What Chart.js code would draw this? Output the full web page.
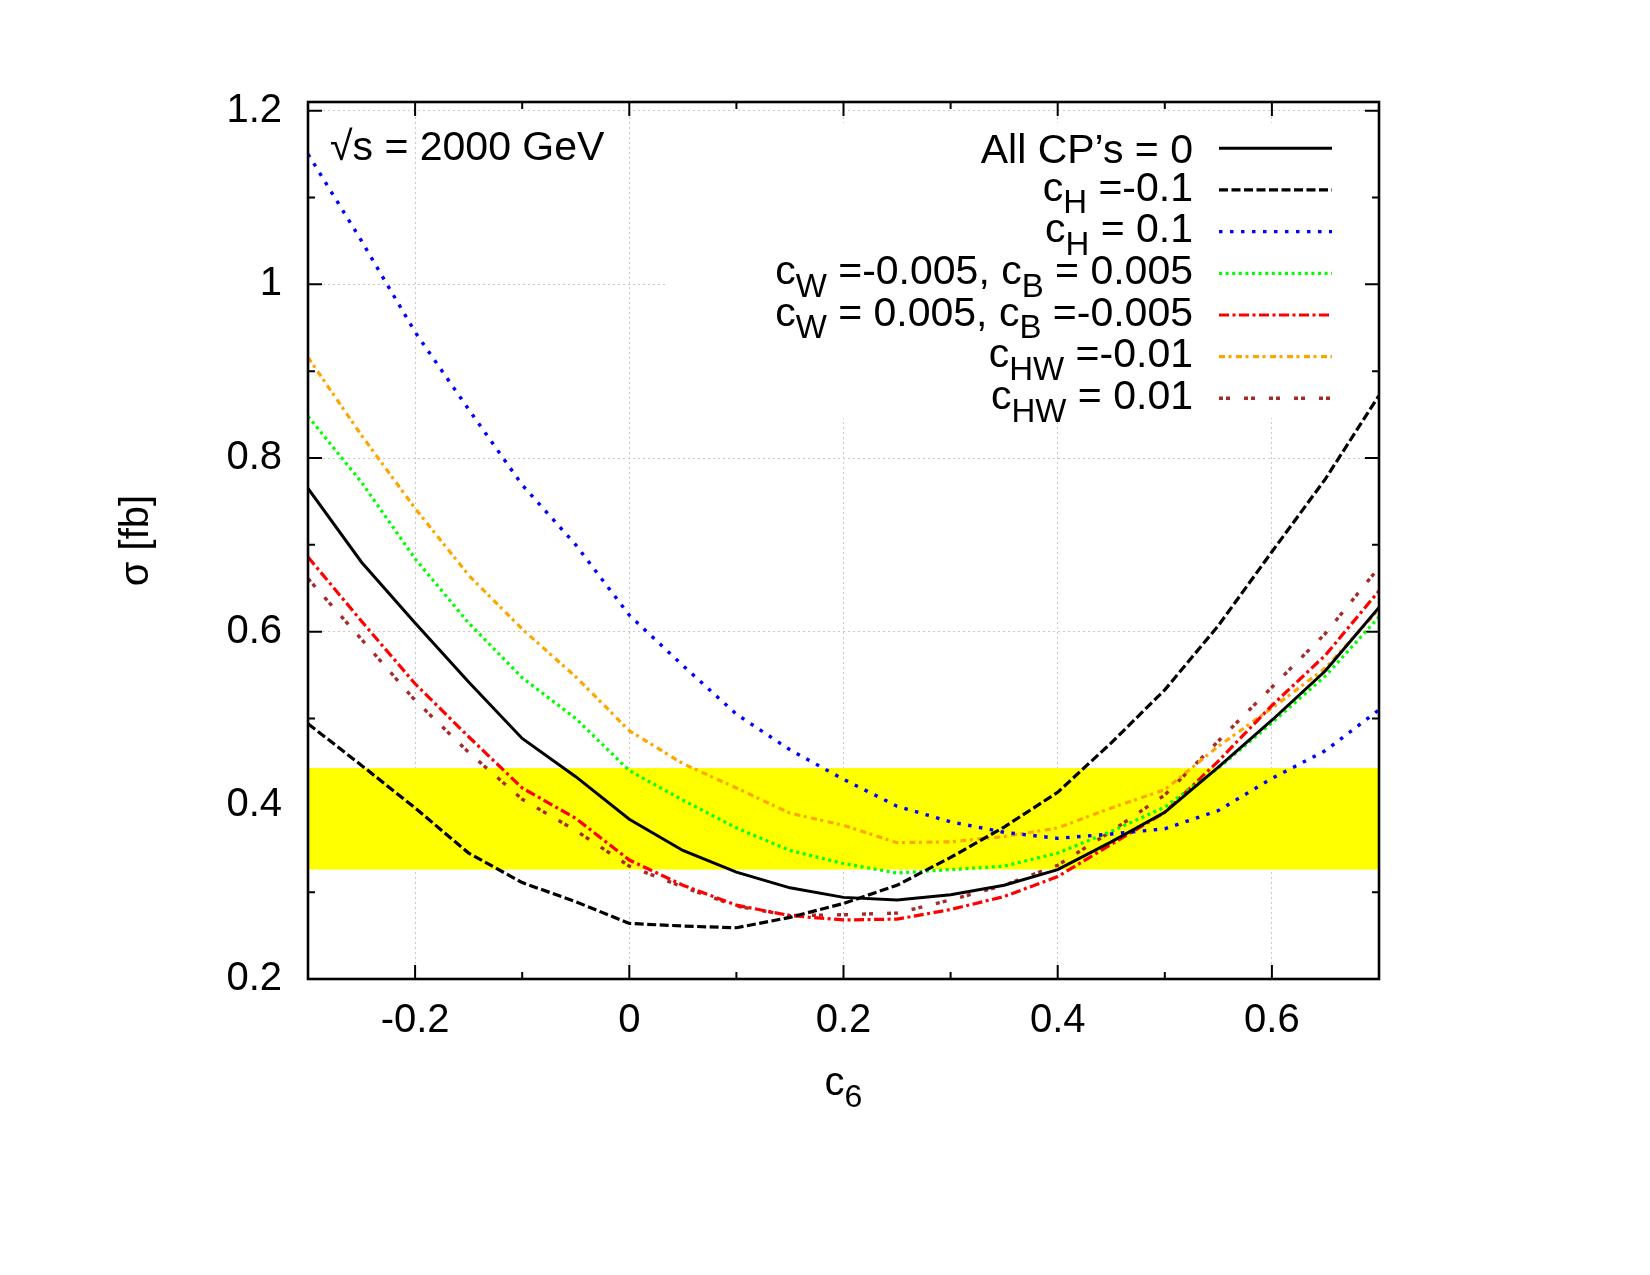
<!DOCTYPE html>
<html>
<head>
<meta charset="utf-8">
<script src="https://cdn.jsdelivr.net/npm/chart.js@4.4.1/dist/chart.umd.min.js"></script>
<style>
html,body{margin:0;padding:0;background:#ffffff;}
canvas{display:block;}
</style>
</head>
<body>
<canvas id="c" width="1650" height="1275"></canvas>
<script>
// ---------------- data ----------------
const c6 = [-0.3,-0.25,-0.2,-0.15,-0.1,-0.05,0,0.05,0.1,0.15,0.2,0.25,0.3,0.35,0.4,0.45,0.5,0.55,0.6,0.65,0.7];

const sigmaAllZero   = [0.765,0.680,0.610,0.542,0.477,0.433,0.384,0.348,0.323,0.305,0.294,0.291,0.297,0.308,0.326,0.358,0.392,0.444,0.498,0.555,0.628];
const sigmaCHm01     = [0.494,0.446,0.397,0.345,0.311,0.289,0.264,0.261,0.259,0.271,0.287,0.308,0.340,0.375,0.415,0.472,0.533,0.607,0.692,0.776,0.872];
const sigmaCHp01     = [1.150,1.050,0.945,0.856,0.769,0.700,0.619,0.561,0.505,0.464,0.430,0.399,0.381,0.369,0.362,0.367,0.373,0.394,0.431,0.463,0.510];
const sigmaCWmCBp    = [0.848,0.772,0.684,0.610,0.547,0.500,0.440,0.406,0.374,0.348,0.333,0.322,0.326,0.330,0.345,0.370,0.398,0.443,0.495,0.549,0.617];
const sigmaCWpCBm    = [0.686,0.612,0.540,0.479,0.420,0.385,0.337,0.308,0.285,0.273,0.268,0.269,0.280,0.295,0.318,0.355,0.392,0.451,0.515,0.573,0.647];
const sigmaCHWm001   = [0.916,0.826,0.742,0.665,0.603,0.548,0.486,0.448,0.420,0.391,0.377,0.357,0.358,0.364,0.374,0.397,0.418,0.468,0.512,0.558,0.626];
const sigmaCHWp001   = [0.661,0.591,0.521,0.461,0.407,0.371,0.330,0.306,0.284,0.273,0.274,0.276,0.291,0.308,0.331,0.370,0.412,0.474,0.536,0.598,0.674];

const bandLow  = 0.326;   // yellow band lower edge [fb]
const bandHigh = 0.443;   // yellow band upper edge [fb]

const legendLabels = [
  "All CP\u2019s = 0",
  "c_{H} =-0.1",
  "c_{H} = 0.1",
  "c_{W} =-0.005, c_{B} = 0.005",
  "c_{W} = 0.005, c_{B} =-0.005",
  "c_{HW} =-0.01",
  "c_{HW} = 0.01"
];

const xTickValues = [-0.3,-0.2,-0.1,0,0.1,0.2,0.3,0.4,0.5,0.6,0.7];
const xTickLabels = ["","-0.2","","0","","0.2","","0.4","","0.6",""];
const yTickValues = [0.2,0.3,0.4,0.5,0.6,0.7,0.8,0.9,1.0,1.1,1.2];
const yTickLabels = ["0.2","","0.4","","0.6","","0.8","","1","","1.2"];

const xTitle = "c_{6}";
const yTitle = "\u03c3 [fb]";
const energyLabel = "\u221as = 2000 GeV";

// ---------------- helpers ----------------
const FAM = '"Liberation Sans", Arial, Helvetica, sans-serif';
Chart.defaults.font.family = FAM;

function parseRich(s){
  const segs=[]; const re=/_\{([^}]*)\}/g; let last=0, m;
  while((m=re.exec(s))){
    if(m.index>last) segs.push({t:s.slice(last,m.index),sub:false});
    segs.push({t:m[1],sub:true}); last=re.lastIndex;
  }
  if(last<s.length) segs.push({t:s.slice(last),sub:false});
  return segs;
}
function drawRich(ctx, s, x, y, align, size){
  const segs=parseRich(s);
  let w=0;
  segs.forEach(g=>{ctx.font=(g.sub?Math.round(size*0.8):size)+'px '+FAM; g.w=ctx.measureText(g.t).width; w+=g.w;});
  let cx = align==='right' ? x-w : (align==='center' ? x-w/2 : x);
  ctx.textAlign='left'; ctx.textBaseline='alphabetic';
  segs.forEach(g=>{
    ctx.font=(g.sub?Math.round(size*0.8):size)+'px '+FAM;
    ctx.fillText(g.t, cx, y + (g.sub ? size*0.31 : 0));
    cx+=g.w;
  });
}
const isMajor = v => Math.abs(Math.round(v*10)) % 2 === 0;
const pts = arr => arr.map((v,i)=>({x:c6[i], y:v}));

// ---------------- datasets ----------------
const styles = [
  {color:'#000000', dash:[],             width:3.0},
  {color:'#000000', dash:[9,3.5],        width:3.2},
  {color:'#0000ff', dash:[3.5,7.5],      width:3.4},
  {color:'#00ff00', dash:[3,3.6],        width:3.2},
  {color:'#ff0000', dash:[10,3.5,3,3.5], width:3.2},
  {color:'#ffa500', dash:[6,3.5,3,4.5],  width:3.2},
  {color:'#a52a2a', dash:[4,3,4,14],     width:3.4}
];
const seriesData = [sigmaAllZero, sigmaCHm01, sigmaCHp01, sigmaCWmCBp, sigmaCWpCBm, sigmaCHWm001, sigmaCHWp001];

const datasets = seriesData.map((d,i)=>({
  label: legendLabels[i],
  data: pts(d),
  borderColor: styles[i].color,
  borderDash: styles[i].dash,
  borderWidth: styles[i].width,
  borderCapStyle: 'butt',
  pointRadius: 0,
  tension: 0,
  fill: false,
  order: i+1
}));
// yellow band
datasets.push({
  label: 'band',
  data: [{x:c6[0], y:bandHigh},{x:c6[c6.length-1], y:bandHigh}],
  borderWidth: 0,
  borderColor: 'rgba(0,0,0,0)',
  backgroundColor: '#ffff00',
  pointRadius: 0,
  fill: {value: bandLow},
  order: 100
});

// ---------------- custom drawing ----------------
const LEG = {box:{x0:666, x1:1365, y0:123, y1:418}, textRight:1193, lineX0:1219, lineX1:1332, y0:148.3, dy:41.67, size:41};

const framePlugin = {
  id:'frame',
  beforeDatasetsDraw(chart){
    const {ctx, chartArea:a, scales:{x,y}} = chart;
    ctx.save();
    ctx.fillStyle='#ffffff';
    ctx.fillRect(LEG.box.x0, LEG.box.y0, LEG.box.x1-LEG.box.x0, LEG.box.y1-LEG.box.y0);
    ctx.strokeStyle='#000'; ctx.lineWidth=2; ctx.setLineDash([]);
    ctx.beginPath();
    x.ticks.forEach(t=>{
      const px=x.getPixelForValue(t.value); const L=isMajor(t.value)?14:7;
      ctx.moveTo(px,a.bottom); ctx.lineTo(px,a.bottom-L);
      ctx.moveTo(px,a.top); ctx.lineTo(px,a.top+L);
    });
    y.ticks.forEach(t=>{
      const py=y.getPixelForValue(t.value); const L=isMajor(t.value)?14:7;
      ctx.moveTo(a.left,py); ctx.lineTo(a.left+L,py);
      ctx.moveTo(a.right,py); ctx.lineTo(a.right-L,py);
    });
    ctx.stroke();
    ctx.restore();
  },
  afterDatasetsDraw(chart){
    const {ctx, chartArea:a} = chart;
    ctx.save();
    ctx.strokeStyle='#000'; ctx.lineWidth=2.6; ctx.setLineDash([]);
    ctx.strokeRect(a.left, a.top, a.right-a.left, a.bottom-a.top);
    ctx.fillStyle='#000';
    chart.data.datasets.forEach((ds,i)=>{
      if(i>=legendLabels.length) return;
      const cy = LEG.y0 + i*LEG.dy;
      const hasSub = ds.label.indexOf('_{')>=0;
      ctx.fillStyle='#000';
      drawRich(ctx, ds.label, LEG.textRight, cy + 14.7 - (hasSub?4:0), 'right', LEG.size);
      ctx.beginPath();
      ctx.strokeStyle=ds.borderColor; ctx.lineWidth=ds.borderWidth; ctx.setLineDash(ds.borderDash); ctx.lineCap='butt';
      ctx.moveTo(LEG.lineX0, cy); ctx.lineTo(LEG.lineX1, cy); ctx.stroke();
    });
    ctx.setLineDash([]);
    ctx.fillStyle='#000';
    drawRich(ctx, energyLabel, 330, 160, 'left', 41);
    drawRich(ctx, xTitle, (a.left+a.right)/2, 1095, 'center', 40);
    ctx.save();
    ctx.translate(137, (a.top+a.bottom)/2);
    ctx.rotate(-Math.PI/2);
    ctx.font='40px '+FAM; ctx.textAlign='center'; ctx.textBaseline='middle';
    ctx.fillText(yTitle, 0, 0);
    ctx.restore();
    ctx.restore();
  }
};

// ---------------- chart ----------------
new Chart(document.getElementById('c').getContext('2d'), {
  type:'line',
  data:{datasets},
  options:{
    responsive:false, animation:false, devicePixelRatio:1,
    layout:{padding:{left:0, top:102, right:271, bottom:0}},
    plugins:{legend:{display:false}, tooltip:{enabled:false}},
    elements:{point:{radius:0}, line:{tension:0}},
    scales:{
      x:{
        type:'linear', min:-0.3, max:0.7,
        afterBuildTicks: s => { s.ticks = xTickValues.map(v=>({value:v})); },
        afterFit: s => { s.height = 296; },
        ticks:{
          autoSkip:false, maxRotation:0, includeBounds:false, padding:18,
          color:'#000', font:{size:40, family:FAM},
          callback: v => { const k=xTickValues.findIndex(t=>Math.abs(t-v)<1e-9); return k>=0?xTickLabels[k]:''; }
        },
        grid:{ drawTicks:false, lineWidth:1,
          color: c => (c.tick && isMajor(c.tick.value) && c.index>0 && c.index<xTickValues.length-1) ? '#c8c8c8' : 'rgba(0,0,0,0)' },
        border:{display:false, dash:[2,3]}
      },
      y:{
        type:'linear', min:0.2, max:1.21,
        afterBuildTicks: s => { s.ticks = yTickValues.map(v=>({value:v})); },
        afterFit: s => { s.width = 308; },
        ticks:{
          autoSkip:false, includeBounds:false, padding:26,
          color:'#000', font:{size:40, family:FAM},
          callback: v => { const k=yTickValues.findIndex(t=>Math.abs(t-v)<1e-9); return k>=0?yTickLabels[k]:''; }
        },
        grid:{ drawTicks:false, lineWidth:1,
          color: c => (c.tick && isMajor(c.tick.value) && c.index>0) ? '#c8c8c8' : 'rgba(0,0,0,0)' },
        border:{display:false, dash:[2,3]}
      }
    }
  },
  plugins:[framePlugin]
});
</script>
</body>
</html>
